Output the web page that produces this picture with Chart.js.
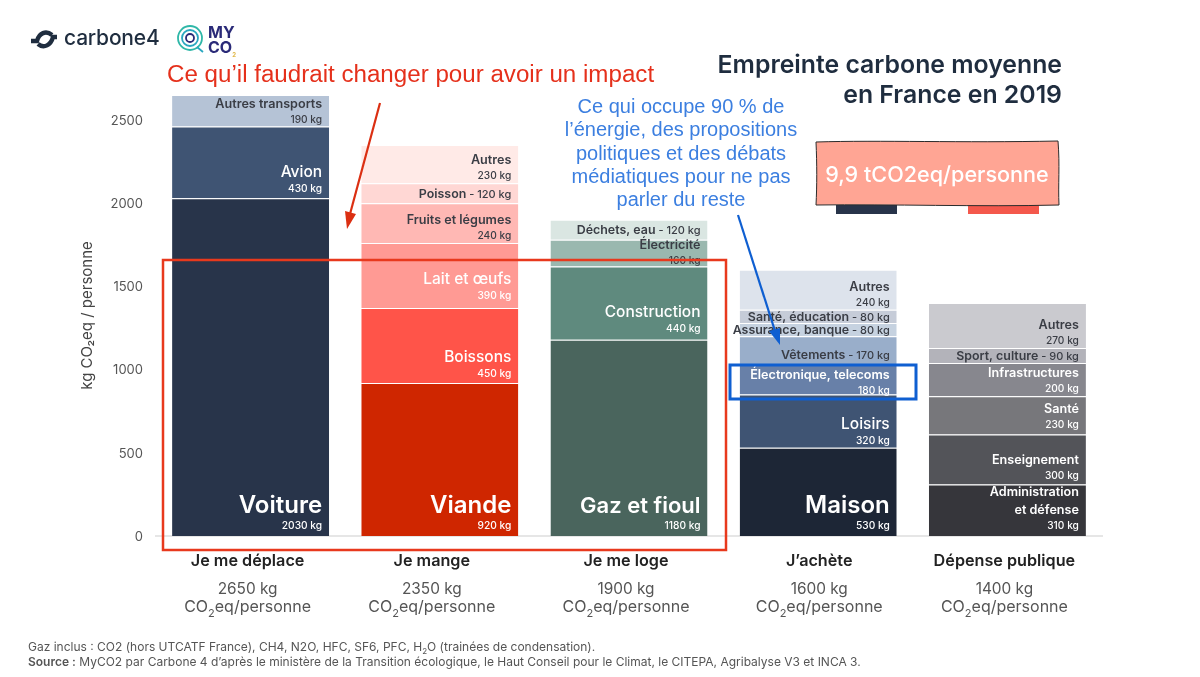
<!DOCTYPE html>
<html lang="fr">
<head>
<meta charset="utf-8">
<title>Empreinte carbone moyenne en France en 2019</title>
<script src="https://cdn.jsdelivr.net/npm/chart.js@4/dist/chart.umd.min.js"></script>
<style>
  html, body { margin: 0; padding: 0; background: #fff; }
  #page { position: relative; width: 1200px; height: 677px; overflow: hidden; font-family: Inter, sans-serif; }
  #chart { position: absolute; left: 0; top: 0; }
  #marks { position: absolute; left: 0; top: 0; }
  .txt { position: absolute; white-space: nowrap; }
  #title { right: 138px; top: 50px; text-align: right; font-size: 24.8px; line-height: 29.5px; font-weight: 600; color: #1f2d3f; }
  #redNote { left: 167px; top: 60px; font: 24.15px "Liberation Sans", sans-serif; color: #e5301b; }
  #blueNote { left: 531px; width: 300px; top: 95px; text-align: center; font: 20px/23.3px "Liberation Sans", sans-serif; color: #3c7fe0; }
  #badge { left: 816px; width: 242px; top: 161px; text-align: center; font-size: 21.6px; font-weight: 500; color: #fff; }
  #brand { left: 64px; top: 25px; font-size: 21px; font-weight: 500; color: #1f2d3f; letter-spacing: -0.2px; }
  #myco { left: 208px; top: 25px; font-size: 16px; line-height: 15px; font-weight: 700; color: #2a2a78; }
  #myco sub { font-size: 6px; color: #e0b84a; line-height: 0; }
  #foot { left: 28px; top: 639px; font-size: 12px; line-height: 15px; color: #555; }
  #foot sub { font-size: 8px; line-height: 0; }
</style>
</head>
<body>
<div id="page">
  <canvas id="chart" width="1200" height="677"></canvas>
  <svg id="marks" width="1200" height="677" viewBox="0 0 1200 677">
    <!-- logos -->
    <g fill="none" stroke="#1f2d3f" stroke-width="4.4">
      <path d="M31 41 L37 41 C39 33 46 30 52 35"/>
      <path d="M57 37 L53 37 C51 45 44 49 38 44"/>
    </g>
    <g fill="none" stroke-width="1.8">
      <circle cx="190" cy="38" r="12" stroke="#2fb7a8"/>
      <circle cx="190" cy="38" r="8" stroke="#2aa7c0"/>
      <circle cx="190" cy="38" r="4" stroke="#2a2a78"/>
      <path d="M197 47 L203 52" stroke="#2aa7c0"/>
    </g>
    <!-- drapeau sous le badge -->
    <rect x="836" y="205" width="61" height="9" fill="#28344a"/>
    <rect x="897" y="205" width="71" height="9" fill="#fff"/>
    <rect x="968" y="205" width="71" height="9" fill="#f4584c"/>
    <path d="M816 142 C880 140 960 143 1058 141 C1060 165 1058 185 1059 205 C980 207 890 204 816 205 C817 185 817 165 816 142 Z" fill="#ffa594" stroke="#2b2b2b" stroke-width="1"/>
    <!-- annotations -->
    <rect x="163" y="260" width="563" height="290" fill="none" stroke="#e8391d" stroke-width="2.5"/>
    <rect x="730" y="365" width="186" height="34" fill="none" stroke="#0f5fd1" stroke-width="3"/>
    <path d="M380 103 L350 214" stroke="#db2f12" stroke-width="2.2" fill="none"/>
    <path d="M347 229 L345 211 L356 214 Z" fill="#db2f12"/>
    <path d="M738 215 L775 331" stroke="#0f5fd1" stroke-width="2.2" fill="none"/>
    <path d="M780 345 L769 331 L780 328 Z" fill="#0f5fd1"/>
  </svg>
  <div class="txt" id="brand">carbone4</div>
  <div class="txt" id="myco">MY<br>CO<sub>2</sub></div>
  <div class="txt" id="title">Empreinte carbone moyenne<br>en France en 2019</div>
  <div class="txt" id="redNote">Ce qu’il faudrait changer pour avoir un impact</div>
  <div class="txt" id="blueNote">Ce qui occupe 90 % de<br>l’énergie, des propositions<br>politiques et des débats<br>médiatiques pour ne pas<br>parler du reste</div>
  <div class="txt" id="badge">9,9 tCO2eq/personne</div>
  <div class="txt" id="foot">Gaz inclus : CO2 (hors UTCATF France), CH4, N2O, HFC, SF6, PFC, H<sub>2</sub>O (trainées de condensation).<br><b style="font-weight:600">Source :</b> MyCO2 par Carbone 4 d’après le ministère de la Transition écologique, le Haut Conseil pour le Climat, le CITEPA, Agribalyse V3 et INCA 3.</div>
</div>
<script>
// ---------------------------------- chart data ----------------------------------
const categories = ['Je me déplace', 'Je mange', 'Je me loge', 'J’achète', 'Dépense publique'];
const totals = ['2650 kg', '2350 kg', '1900 kg', '1600 kg', '1400 kg'];
const yTicks = [0, 500, 1000, 1500, 2000, 2500];

const deplaceValues = [2030, 430, 190];
const deplaceNames = ['Voiture', 'Avion', 'Autres transports'];
const deplaceColors = ['#28344a', '#3f5473', '#b5c3d6'];

const mangeValues = [920, 450, 390, 240, 120, 230];
const mangeNames = ['Viande', 'Boissons', 'Lait et œufs', 'Fruits et légumes', 'Poisson', 'Autres'];
const mangeColors = ['#cf2600', '#ff5449', '#ff9a94', '#ffb8b4', '#ffd7d4', '#ffeae7'];

const logeValues = [1180, 440, 160, 120];
const logeNames = ['Gaz et fioul', 'Construction', 'Électricité', 'Déchets, eau'];
const logeColors = ['#4a655d', '#5f8a7e', '#9ab8af', '#dae6e2'];

const acheteValues = [530, 320, 180, 170, 80, 80, 240];
const acheteNames = ['Maison', 'Loisirs', 'Électronique, telecoms', 'Vêtements', 'Assurance, banque', 'Santé, éducation', 'Autres'];
const acheteColors = ['#1d2636', '#3f5473', '#6880a8', '#99aeca', '#c6d2e0', '#c6ccd8', '#dde3ec'];

const publicValues = [310, 300, 230, 200, 90, 270];
const publicNames = ['Administration|et défense', 'Enseignement', 'Santé', 'Infrastructures', 'Sport, culture', 'Autres'];
const publicColors = ['#36363b', '#535459', '#77777b', '#87878e', '#b3b3ba', '#cacacf'];

const allValues = [deplaceValues, mangeValues, logeValues, acheteValues, publicValues];
const allNames = [deplaceNames, mangeNames, logeNames, acheteNames, publicNames];
const allColors = [deplaceColors, mangeColors, logeColors, acheteColors, publicColors];

// label looks, by segment name
const heroNames = ['Voiture', 'Viande', 'Gaz et fioul', 'Maison'];
const mediumNames = ['Avion', 'Boissons', 'Lait et œufs', 'Construction', 'Loisirs'];
const inlineNames = ['Poisson', 'Déchets, eau', 'Vêtements', 'Assurance, banque', 'Santé, éducation', 'Sport, culture'];
const darkNames = ['Autres transports', 'Autres', 'Fruits et légumes', 'Électricité'].concat(inlineNames);
// the original slide is not regular, a few labels sit higher or lower in their segment
const labelNudge = {
    'Lait et œufs': -3, 'Construction': -2, 'Loisirs': 2, 'Vêtements': 4, 'Électricité': 2,
    'Électronique, telecoms': 3, 'Administration|et défense': -3, 'Santé': -2, 'Enseignement': -1
};
// same for the text under each bar, which is not centred on it
const columnTextShift = [-3, -8, -3, 1, -3];

const FONT = 'Inter, sans-serif';

// one dataset per stacking level, a bar simply has no value on the levels above its top
let datasets = [];
for (let level = 0; level < 7; level++) {
    datasets.push({
        data: allValues.map(v => v[level] === undefined ? null : v[level]),
        backgroundColor: allColors.map(c => c[level] || '#fff'),
        borderColor: '#fff',
        borderWidth: { top: 1, left: 0, right: 0, bottom: 0 },
        borderSkipped: false,
        stack: 'total'
    });
}

function drawSegmentLabel(ctx, name, value, bar) {
    let right = bar.x + bar.width / 2 - 7;
    let bottom = bar.base + (labelNudge[name] || 0);
    let top = bar.y + (labelNudge[name] || 0);
    ctx.fillStyle = darkNames.includes(name) ? '#3a3d45' : '#fff';
    ctx.textAlign = 'right';
    ctx.textBaseline = 'alphabetic';

    if (inlineNames.includes(name)) {
        let base = (top + bottom) / 2 + 4.5;
        ctx.font = '500 11px ' + FONT;
        let unit = ' - ' + value + ' kg';
        ctx.fillText(unit, right, base);
        let unitWidth = ctx.measureText(unit).width;
        ctx.font = '600 12.4px ' + FONT;
        ctx.fillText(name, right - unitWidth, base);
        return;
    }

    ctx.font = '500 10.2px ' + FONT;
    if (heroNames.includes(name)) {
        let valueBase = bottom - 7;
        ctx.fillText(value + ' kg', right, valueBase);
        ctx.font = '600 ' + (name === 'Gaz et fioul' ? 22 : 24) + 'px ' + FONT;
        ctx.fillText(name, right, valueBase - 16);
    } else if (mediumNames.includes(name)) {
        let valueBase = bottom - 6;
        ctx.fillText(value + ' kg', right, valueBase);
        ctx.font = '500 15.5px ' + FONT;
        ctx.fillText(name, right, valueBase - 15);
    } else {
        let valueBase = bottom - 4;
        ctx.fillText(value + ' kg', right, valueBase);
        ctx.font = '600 12.6px ' + FONT;
        let lines = name.split('|').reverse();
        lines.forEach((line, i) => ctx.fillText(line, right, valueBase - 15 - i * 18));
    }
}

function drawColumnText(ctx, x, category, total) {
    ctx.textBaseline = 'alphabetic';
    ctx.textAlign = 'center';
    ctx.fillStyle = '#222';
    ctx.font = '600 16.2px ' + FONT;
    ctx.fillText(category, x, 566);

    ctx.fillStyle = '#555';
    ctx.font = '400 15.4px ' + FONT;
    ctx.fillText(total, x, 594);

    // CO2eq/personne with a lowered 2, so measured piece by piece
    let a = 'CO', b = '2', c = 'eq/personne';
    ctx.font = '400 16px ' + FONT;
    let wa = ctx.measureText(a).width, wc = ctx.measureText(c).width;
    ctx.font = '400 11px ' + FONT;
    let wb = ctx.measureText(b).width;
    let left = x - (wa + wb + wc) / 2;
    ctx.textAlign = 'left';
    ctx.fillText(b, left + wa, 617);
    ctx.font = '400 16px ' + FONT;
    ctx.fillText(a, left, 612);
    ctx.fillText(c, left + wa + wb, 612);
}

const barLabels = {
    id: 'barLabels',
    afterDatasetsDraw(chart) {
        let ctx = chart.ctx;
        ctx.save();
        chart.data.datasets.forEach((ds, level) => {
            let meta = chart.getDatasetMeta(level);
            ds.data.forEach((value, cat) => {
                if (value !== null)
                    drawSegmentLabel(ctx, allNames[cat][level], value, meta.data[cat]);
            });
        });
        categories.forEach((name, cat) => {
            let x = chart.scales.x.getPixelForValue(cat) + columnTextShift[cat];
            drawColumnText(ctx, x, name, totals[cat]);
        });
        ctx.restore();
    }
};

new Chart(document.getElementById('chart'), {
    type: 'bar',
    data: { labels: categories, datasets: datasets },
    plugins: [barLabels],
    options: {
        responsive: false,
        animation: false,
        layout: { padding: { top: 95, right: 98, left: 0, bottom: 0 } },
        plugins: { legend: { display: false }, tooltip: { enabled: false } },
        datasets: { bar: { categoryPercentage: 1, barPercentage: 0.83 } },
        scales: {
            x: {
                stacked: true,
                afterFit: s => { s.height = 141; },
                grid: { display: false, drawTicks: false },
                border: { color: '#e6e6e6', width: 2 },
                ticks: { display: false }
            },
            y: {
                stacked: true,
                min: 0,
                max: 2650,
                afterFit: s => { s.width = 156; },
                afterBuildTicks: s => { s.ticks = yTicks.map(v => ({ value: v })); },
                grid: { display: false, drawTicks: false },
                border: { display: false },
                ticks: { color: '#555', padding: 13, labelOffset: 1, font: { family: FONT, size: 13 }, callback: v => String(v) },
                title: {
                    display: true,
                    text: 'kg CO₂eq / personne',
                    color: '#444',
                    padding: { top: 78, bottom: 0 },
                    font: { family: FONT, size: 15 }
                }
            }
        }
    }
});
</script>
</body>
</html>
